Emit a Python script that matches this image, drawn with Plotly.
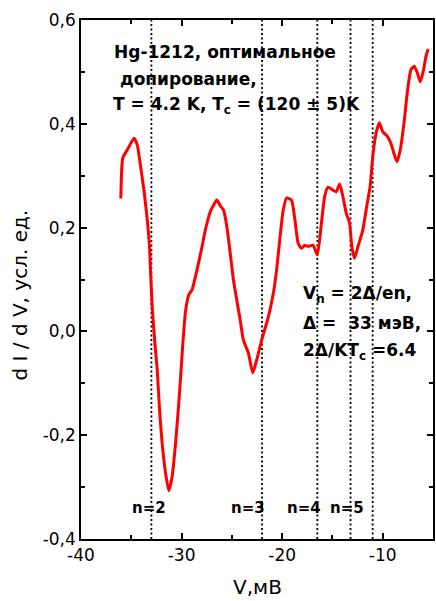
import plotly.graph_objects as go

# Curve data (V in mV, dI/dV arb. units)
v_mv = [-36.04, -35.85, -35.39, -34.73, -34.40, -34.07, -33.74, -33.41, -33.18, -33.08,
        -32.92, -32.68, -32.42, -32.19, -31.93, -31.59, -31.27, -30.94, -30.60, -30.28,
        -30.00, -29.85, -29.61, -29.29, -28.96, -28.47, -27.97, -27.64, -27.14, -26.49,
        -26.15, -25.83, -25.50, -25.16, -24.84, -24.51, -24.17, -23.85, -23.35, -22.93,
        -22.53, -22.04, -21.37, -20.88, -20.55, -20.21, -19.89, -19.56, -19.07, -18.73,
        -18.41, -18.08, -17.74, -17.42, -16.92, -16.50, -16.10, -15.77, -15.44, -14.95,
        -14.62, -14.28, -13.96, -13.63, -13.29, -13.07, -12.80, -12.47, -11.98, -11.65,
        -11.25, -10.99, -10.66, -10.33, -10.00, -9.50, -9.18, -8.84, -8.58, -8.25,
        -7.85, -7.53, -7.20, -6.86, -6.54, -6.27, -5.94, -5.71, -5.48]
didv = [0.256, 0.334, 0.350, 0.372, 0.359, 0.317, 0.272, 0.215, 0.160, 0.112,
        0.048, -0.017, -0.074, -0.151, -0.216, -0.273, -0.307, -0.280, -0.216, -0.139,
        -0.060, -0.017, 0.038, 0.070, 0.080, 0.118, 0.163, 0.195, 0.231, 0.253,
        0.242, 0.234, 0.202, 0.150, 0.099, 0.060, 0.022, -0.017, -0.042, -0.080,
        -0.055, -0.017, 0.028, 0.073, 0.118, 0.182, 0.234, 0.257, 0.253, 0.215,
        0.170, 0.160, 0.166, 0.164, 0.166, 0.147, 0.208, 0.260, 0.278, 0.272,
        0.269, 0.284, 0.260, 0.228, 0.208, 0.163, 0.141, 0.163, 0.195, 0.234,
        0.280, 0.337, 0.382, 0.402, 0.385, 0.375, 0.362, 0.340, 0.327, 0.350,
        0.407, 0.465, 0.504, 0.511, 0.497, 0.481, 0.504, 0.529, 0.544]

# Subharmonic gap structure positions V_n = 2*Delta/(e n)
n_values = [2, 3, 4, 5, 6]
vn_positions = [-33.0, -22.0, -16.5, -13.2, -11.0]

# n labels
n_labels = ["n=2", "n=3", "n=4", "n=5"]
n_label_x = [-33.24, -23.35, -17.81, -13.56]
n_label_y = -0.340

x_tickvals = [-40, -30, -20, -10]
x_ticktext = ["-40", "-30", "-20", "-10"]
y_tickvals = [-0.4, -0.2, 0.0, 0.2, 0.4, 0.6]
y_ticktext = ["-0,4", "-0,2", "0,0", "0,2", "0,4", "0,6"]

FONT = "DejaVu Sans"

fig = go.Figure()
fig.add_trace(go.Scatter(x=v_mv, y=didv, mode="lines",
                         line=dict(color="#ff0000", width=3, shape="spline", smoothing=0.5),
                         showlegend=False, hoverinfo="skip"))

shapes = []
for xv in vn_positions:
    shapes.append(dict(type="line", xref="x", yref="paper", x0=xv, x1=xv, y0=0, y1=1,
                       line=dict(color="black", width=1.8, dash="2px,2.5px"), layer="below"))

annotations = []
# main text block
block1 = [("Hg-1212, оптимальное", -36.9, 0.538),
          (" допирование,", -36.9, 0.486),
          ("T = 4.2 K, T<sub>c</sub> = (120 ± 5)K", -37.0, 0.435)]
for txt, xx, yy in block1:
    annotations.append(dict(x=xx, y=yy, xref="x", yref="y", text="<b>" + txt + "</b>",
                            showarrow=False, xanchor="left", yanchor="middle",
                            font=dict(family=FONT, size=17, color="black")))
block2 = [("V<sub>n</sub> = 2Δ/en,", -18.08, 0.072),
          ("Δ =  33 мэВ,", -18.08, 0.016),
          ("2Δ/KT<sub>c</sub> =6.4", -18.08, -0.038)]
for txt, xx, yy in block2:
    annotations.append(dict(x=xx, y=yy, xref="x", yref="y", text="<b>" + txt + "</b>",
                            showarrow=False, xanchor="left", yanchor="middle",
                            font=dict(family=FONT, size=17, color="black")))
for lab, xx in zip(n_labels, n_label_x):
    annotations.append(dict(x=xx, y=n_label_y, xref="x", yref="y", text="<b>" + lab + "</b>",
                            showarrow=False, xanchor="center", yanchor="middle",
                            font=dict(family=FONT, size=15, color="black")))
# axis titles
annotations.append(dict(x=0.5, y=-0.093, xref="paper", yref="paper", text="V,мВ",
                        showarrow=False, xanchor="center", yanchor="middle", borderpad=0,
                        font=dict(family=FONT, size=20, color="black")))
annotations.append(dict(x=-0.172, y=0.47, xref="paper", yref="paper", text="d I / d V, усл. ед.",
                        showarrow=False, xanchor="center", yanchor="middle", textangle=-90,
                        font=dict(family=FONT, size=20, color="black")))

axis_common = dict(showline=True, linecolor="black", linewidth=1.5, mirror="allticks",
                   ticks="inside", ticklen=6, tickwidth=1.5, tickcolor="black",
                   showgrid=False, zeroline=False,
                   tickfont=dict(family=FONT, size=17, color="black"))

fig.update_layout(
    width=436, height=601,
    margin=dict(l=81, r=1, t=20, b=62),
    paper_bgcolor="white", plot_bgcolor="white",
    xaxis=dict(range=[-40, -5], tickmode="array", tickvals=x_tickvals, ticktext=x_ticktext,
               minor=dict(tickmode="linear", tick0=-40, dtick=5, ticks="inside", ticklen=4,
                          tickwidth=1.5, tickcolor="black"),
               **axis_common),
    yaxis=dict(range=[-0.4, 0.6], tickmode="array", tickvals=y_tickvals, ticktext=y_ticktext,
               minor=dict(tickmode="linear", tick0=-0.4, dtick=0.1, ticks="inside", ticklen=4,
                          tickwidth=1.5, tickcolor="black"),
               **axis_common),
    shapes=shapes,
    annotations=annotations,
)

fig.write_html("out.html")
